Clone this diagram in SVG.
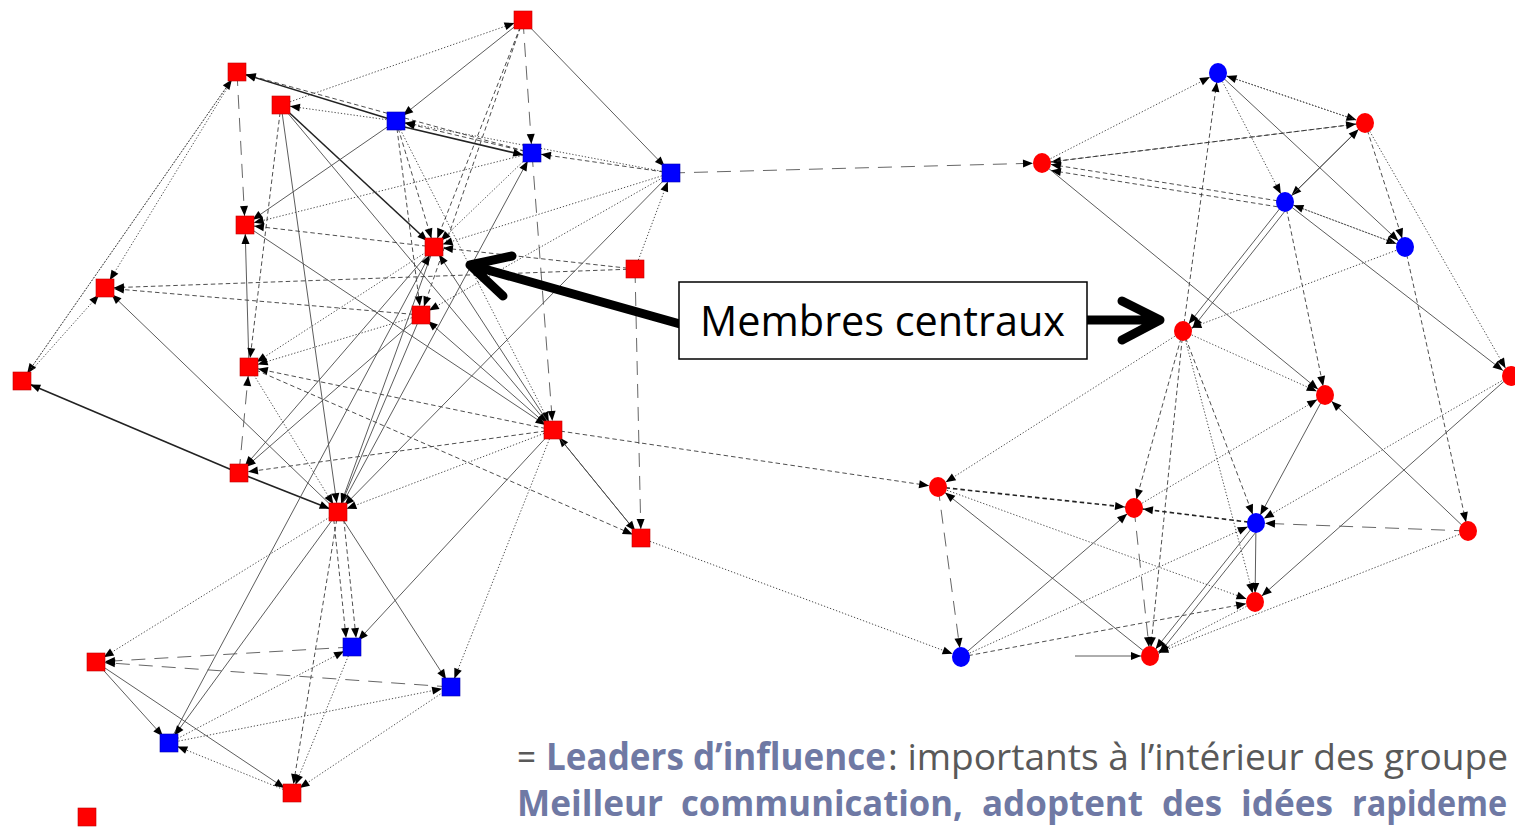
<svg xmlns="http://www.w3.org/2000/svg" width="1515" height="828" viewBox="0 0 1515 828">
<defs>
<marker id="ar" markerUnits="userSpaceOnUse" markerWidth="12" markerHeight="8" refX="19" refY="4" orient="auto" overflow="visible">
<path d="M0,0 L10,4 L0,8 z" fill="#000"/>
</marker>
<style>
.e line{stroke:#3a3a3a;stroke-width:0.9;fill:none;marker-end:url(#ar)}
.e .s{stroke:#4a4a4a}
.e .k{stroke:#222;stroke-width:1.6}
.e .d{stroke-dasharray:1.3 1.9}
.e .m{stroke-dasharray:4.5 3}
.e .l{stroke-dasharray:14 9;stroke:#555}
.sq{fill:#ff0000;stroke:#c00000;stroke-width:0.6}
.sqb{fill:#0000ff;stroke:#0000b0;stroke-width:0.6}
.cr{fill:#ff0000}
.cb{fill:#0000ff}
.big{stroke:#000;stroke-width:9;fill:none;stroke-linecap:round;stroke-linejoin:round}
.t1{font-family:"Open Sans","Liberation Sans",sans-serif;font-size:37px;fill:#595959}
.t2{font-family:"Open Sans","Liberation Sans",sans-serif;font-size:37px;font-weight:bold;fill:#6f79a4}
.t3{font-family:"Open Sans","Liberation Sans",sans-serif;font-size:35px;font-weight:bold;fill:#6f79a4}
</style>
</defs>
<rect width="1515" height="828" fill="#fff"/>
<g id="connectors" class="e">
<!-- left cluster -->
<line class="d" x1="281" y1="105" x2="523" y2="20"/>
<line class="s" x1="523" y1="20" x2="396" y2="121"/>
<line class="s" x1="523" y1="20" x2="671" y2="173"/>
<line class="l" x1="523" y1="20" x2="532" y2="153"/>
<line class="m" x1="523" y1="20" x2="434" y2="247"/>
<line class="m" x1="523" y1="20" x2="421" y2="315"/>
<line class="k" x1="396" y1="121" x2="237" y2="72"/>
<line class="m" x1="532" y1="153" x2="237" y2="72"/>
<line class="d" x1="396" y1="121" x2="281" y2="105"/>
<line class="m" x1="532" y1="153" x2="396" y2="121"/>
<line class="k" x1="396" y1="125" x2="532" y2="157"/>
<line class="m" x1="671" y1="173" x2="532" y2="153"/>
<line class="d" x1="671" y1="173" x2="396" y2="121"/>
<line class="l" x1="237" y1="72" x2="245" y2="225"/>
<line class="s" x1="249" y1="367" x2="245" y2="225"/>
<line class="l" x1="239" y1="473" x2="249" y2="367"/>
<line class="m" x1="281" y1="105" x2="249" y2="367"/>
<line class="k" x1="281" y1="105" x2="434" y2="247"/>
<line class="s" x1="281" y1="105" x2="553" y2="430"/>
<line class="s" x1="281" y1="105" x2="338" y2="512"/>
<line class="s" x1="396" y1="121" x2="245" y2="225"/>
<line class="d" x1="532" y1="153" x2="245" y2="225"/>
<line class="m" x1="434" y1="247" x2="245" y2="225"/>
<line class="m" x1="635" y1="269" x2="105" y2="288"/>
<line class="m" x1="635" y1="269" x2="434" y2="247"/>
<line class="d" x1="671" y1="173" x2="434" y2="247"/>
<line class="d" x1="635" y1="269" x2="671" y2="173"/>
<line class="s" x1="671" y1="173" x2="338" y2="512"/>
<line class="l" x1="635" y1="269" x2="641" y2="538"/>
<line class="l" x1="532" y1="153" x2="553" y2="430"/>
<line class="m" x1="396" y1="121" x2="434" y2="247"/>
<line class="m" x1="396" y1="121" x2="421" y2="315"/>
<line class="d" x1="396" y1="121" x2="553" y2="430"/>
<line class="d" x1="532" y1="153" x2="434" y2="247"/>
<line class="d" x1="671" y1="173" x2="421" y2="315"/>
<line class="d" x1="237" y1="72" x2="105" y2="288"/>
<line class="d" x1="237" y1="72" x2="22" y2="381"/>
<line class="d" x1="22" y1="381" x2="237" y2="72"/>
<line class="d" x1="22" y1="381" x2="105" y2="288"/>
<line class="s" x1="338" y1="512" x2="105" y2="288"/>
<line class="m" x1="421" y1="315" x2="105" y2="288"/>
<line class="d" x1="421" y1="315" x2="249" y2="367"/>
<line class="d" x1="434" y1="247" x2="249" y2="367"/>
<line class="m" x1="553" y1="430" x2="249" y2="367"/>
<line class="s" x1="553" y1="430" x2="434" y2="247"/>
<line class="s" x1="553" y1="430" x2="421" y2="315"/>
<line class="s" x1="245" y1="225" x2="553" y2="430"/>
<line class="k" x1="239" y1="473" x2="22" y2="381"/>
<line class="k" x1="239" y1="473" x2="338" y2="512"/>
<line class="m" x1="553" y1="430" x2="239" y2="473"/>
<line class="m" x1="249" y1="367" x2="641" y2="538"/>
<line class="d" x1="553" y1="430" x2="338" y2="512"/>
<line class="s" x1="553" y1="430" x2="352" y2="647"/>
<line class="d" x1="553" y1="430" x2="451" y2="687"/>
<line class="d" x1="249" y1="367" x2="338" y2="512"/>
<line class="s" x1="421" y1="315" x2="239" y2="473"/>
<line class="s" x1="421" y1="315" x2="338" y2="512"/>
<line class="s" x1="434" y1="247" x2="338" y2="512"/>
<line class="s" x1="434" y1="247" x2="239" y2="473"/>
<line class="s" x1="338" y1="512" x2="532" y2="153"/>
<line class="s" x1="169" y1="743" x2="434" y2="247"/>
<line class="d" x1="338" y1="512" x2="96" y2="662"/>
<line class="s" x1="338" y1="512" x2="169" y2="743"/>
<line class="m" x1="333" y1="512" x2="347" y2="647"/>
<line class="m" x1="343" y1="512" x2="357" y2="647"/>
<line class="m" x1="338" y1="512" x2="292" y2="793"/>
<line class="s" x1="338" y1="512" x2="451" y2="687"/>
<line class="l" x1="352" y1="647" x2="96" y2="662"/>
<line class="l" x1="451" y1="687" x2="96" y2="662"/>
<line class="s" x1="96" y1="662" x2="169" y2="743"/>
<line class="s" x1="96" y1="662" x2="292" y2="793"/>
<line class="d" x1="169" y1="743" x2="352" y2="647"/>
<line class="d" x1="169" y1="743" x2="451" y2="687"/>
<line class="d" x1="292" y1="793" x2="169" y2="743"/>
<line class="d" x1="352" y1="647" x2="292" y2="793"/>
<line class="d" x1="451" y1="687" x2="292" y2="793"/>
<line class="s" x1="641" y1="538" x2="553" y2="430"/>
<line class="s" x1="553" y1="430" x2="641" y2="538"/>
<line class="m" x1="553" y1="430" x2="938" y2="487"/>
<line class="d" x1="641" y1="538" x2="961" y2="657"/>
<line class="l" x1="671" y1="173" x2="1042" y2="163"/>
<!-- right cluster -->
<line class="d" x1="1042" y1="163" x2="1218" y2="73"/>
<line class="d" x1="1218" y1="73" x2="1365" y2="123"/>
<line class="d" x1="1365" y1="123" x2="1218" y2="73"/>
<line class="m" x1="1365" y1="123" x2="1042" y2="163"/>
<line class="m" x1="1042" y1="163" x2="1365" y2="123"/>
<line class="m" x1="1285" y1="202" x2="1042" y2="163"/>
<line class="m" x1="1285" y1="208" x2="1042" y2="169"/>
<line class="s" x1="1218" y1="73" x2="1405" y2="247"/>
<line class="d" x1="1218" y1="73" x2="1285" y2="202"/>
<line class="m" x1="1183" y1="331" x2="1218" y2="73"/>
<line class="s" x1="1365" y1="123" x2="1285" y2="202"/>
<line class="s" x1="1285" y1="202" x2="1365" y2="123"/>
<line class="s" x1="1285" y1="202" x2="1183" y2="331"/>
<line class="s" x1="1289" y1="206" x2="1187" y2="335"/>
<line class="d" x1="1365" y1="123" x2="1510" y2="376"/>
<line class="m" x1="1365" y1="123" x2="1405" y2="247"/>
<line class="d" x1="1285" y1="202" x2="1405" y2="247"/>
<line class="d" x1="1405" y1="247" x2="1285" y2="202"/>
<line class="d" x1="1405" y1="247" x2="1183" y2="331"/>
<line class="s" x1="1285" y1="202" x2="1510" y2="376"/>
<line class="m" x1="1285" y1="202" x2="1325" y2="395"/>
<line class="s" x1="1042" y1="163" x2="1325" y2="395"/>
<line class="d" x1="1183" y1="331" x2="1325" y2="395"/>
<line class="m" x1="1405" y1="247" x2="1468" y2="531"/>
<line class="d" x1="1510" y1="376" x2="1256" y2="523"/>
<line class="s" x1="1510" y1="376" x2="1255" y2="602"/>
<line class="s" x1="1468" y1="531" x2="1325" y2="395"/>
<line class="d" x1="1183" y1="331" x2="938" y2="487"/>
<line class="m" x1="1183" y1="331" x2="1134" y2="508"/>
<line class="m" x1="1183" y1="331" x2="1256" y2="523"/>
<line class="d" x1="1183" y1="331" x2="1255" y2="602"/>
<line class="m" x1="1183" y1="331" x2="1150" y2="656"/>
<line class="m k" x1="938" y1="487" x2="1134" y2="508"/>
<line class="m k" x1="1256" y1="523" x2="1134" y2="508"/>
<line class="l" x1="1468" y1="531" x2="1256" y2="523"/>
<line class="l" x1="938" y1="487" x2="961" y2="657"/>
<line class="d" x1="938" y1="487" x2="1255" y2="602"/>
<line class="s" x1="1150" y1="656" x2="938" y2="487"/>
<line class="s" x1="961" y1="657" x2="1134" y2="508"/>
<line class="d" x1="961" y1="657" x2="1256" y2="523"/>
<line class="m" x1="961" y1="657" x2="1255" y2="602"/>
<line class="d" x1="1134" y1="508" x2="1325" y2="395"/>
<line class="s" x1="1325" y1="395" x2="1256" y2="523"/>
<line class="s" x1="1256" y1="523" x2="1255" y2="602"/>
<line class="l" x1="1134" y1="508" x2="1150" y2="656"/>
<line class="s" x1="1256" y1="523" x2="1150" y2="656"/>
<line class="s" x1="1260" y1="527" x2="1154" y2="660"/>
<line class="d" x1="1468" y1="531" x2="1150" y2="656"/>
<line class="d" x1="1255" y1="602" x2="1150" y2="656"/>
<line class="s" x1="1075" y1="656" x2="1150" y2="656"/>
</g>
<g id="nodes">
<rect id="nA" class="sq" x="514" y="11" width="18" height="18"/>
<rect id="nB" class="sq" x="228" y="63" width="18" height="18"/>
<rect id="nC" class="sq" x="272" y="96" width="18" height="18"/>
<rect id="nD" class="sqb" x="387" y="112" width="18" height="18"/>
<rect id="nE" class="sqb" x="523" y="144" width="18" height="18"/>
<rect id="nF" class="sqb" x="662" y="164" width="18" height="18"/>
<rect id="nG" class="sq" x="236" y="216" width="18" height="18"/>
<rect id="nH" class="sq" x="425" y="238" width="18" height="18"/>
<rect id="nI" class="sq" x="626" y="260" width="18" height="18"/>
<rect id="nJ" class="sq" x="96" y="279" width="18" height="18"/>
<rect id="nK" class="sq" x="412" y="306" width="18" height="18"/>
<rect id="nL" class="sq" x="240" y="358" width="18" height="18"/>
<rect id="nM" class="sq" x="13" y="372" width="18" height="18"/>
<rect id="nN" class="sq" x="544" y="421" width="18" height="18"/>
<rect id="nO" class="sq" x="230" y="464" width="18" height="18"/>
<rect id="nP" class="sq" x="329" y="503" width="18" height="18"/>
<rect id="nQ" class="sq" x="632" y="529" width="18" height="18"/>
<rect id="nR" class="sq" x="87" y="653" width="18" height="18"/>
<rect id="nS" class="sqb" x="343" y="638" width="18" height="18"/>
<rect id="nT" class="sqb" x="442" y="678" width="18" height="18"/>
<rect id="nU" class="sqb" x="160" y="734" width="18" height="18"/>
<rect id="nV" class="sq" x="283" y="784" width="18" height="18"/>
<rect id="nW" class="sq" x="78" y="808" width="18" height="18"/>
<ellipse id="na" class="cb" cx="1218" cy="73" rx="9" ry="10"/>
<ellipse id="nb" class="cr" cx="1365" cy="123" rx="9" ry="10"/>
<ellipse id="nc" class="cr" cx="1042" cy="163" rx="9" ry="10"/>
<ellipse id="nd" class="cb" cx="1285" cy="202" rx="9" ry="10"/>
<ellipse id="ne" class="cb" cx="1405" cy="247" rx="9" ry="10"/>
<ellipse id="nf" class="cr" cx="1183" cy="331" rx="9" ry="10"/>
<ellipse id="ng" class="cr" cx="1511" cy="376" rx="9" ry="10"/>
<ellipse id="nh" class="cr" cx="1325" cy="395" rx="9" ry="10"/>
<ellipse id="ni" class="cr" cx="938" cy="487" rx="9" ry="10"/>
<ellipse id="nj" class="cr" cx="1134" cy="508" rx="9" ry="10"/>
<ellipse id="nk" class="cb" cx="1256" cy="523" rx="9" ry="10"/>
<ellipse id="nl" class="cr" cx="1468" cy="531" rx="9" ry="10"/>
<ellipse id="nm" class="cr" cx="1255" cy="602" rx="9" ry="10"/>
<ellipse id="nn" class="cb" cx="961" cy="657" rx="9" ry="10"/>
<ellipse id="no" class="cr" cx="1150" cy="656" rx="9" ry="10"/>
</g>
<g id="label">
<path class="big" d="M680,324 L470,265 M512,256 L470,265 L503,296"/>
<path class="big" d="M1087,320 L1158,320 M1122,301 L1160,320 L1122,340"/>
<rect x="679" y="282" width="408" height="77" fill="#fff" stroke="#000" stroke-width="1.5"/>
<text x="700" y="336" font-family="'Open Sans','Liberation Sans',sans-serif" font-size="42" textLength="365" lengthAdjust="spacingAndGlyphs" fill="#000">Membres centraux</text>
</g>
<g id="caption">
<text class="t1" x="517" y="770" textLength="19" lengthAdjust="spacingAndGlyphs">=</text>
<text class="t2" x="546" y="770" textLength="340" lengthAdjust="spacingAndGlyphs">Leaders d’influence</text>
<text class="t1" x="888" y="770" textLength="620" lengthAdjust="spacingAndGlyphs">: importants à l’intérieur des groupe</text>
<text class="t3" x="517" y="816" textLength="146" lengthAdjust="spacingAndGlyphs">Meilleur</text>
<text class="t3" x="681" y="816" textLength="282" lengthAdjust="spacingAndGlyphs">communication,</text>
<text class="t3" x="982" y="816" textLength="161" lengthAdjust="spacingAndGlyphs">adoptent</text>
<text class="t3" x="1162" y="816" textLength="60" lengthAdjust="spacingAndGlyphs">des</text>
<text class="t3" x="1241" y="816" textLength="92" lengthAdjust="spacingAndGlyphs">idées</text>
<text class="t3" x="1352" y="816" textLength="155" lengthAdjust="spacingAndGlyphs">rapideme</text>
</g>
</svg>
